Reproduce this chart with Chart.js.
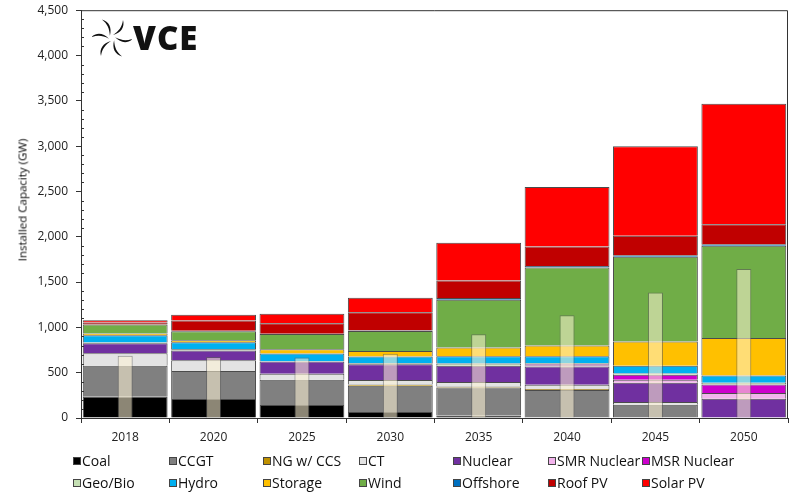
<!DOCTYPE html>
<html>
<head>
<meta charset="utf-8">
<script src="https://cdn.jsdelivr.net/npm/chart.js@4.4.1/dist/chart.umd.min.js"></script>
<style>
  html, body { margin: 0; padding: 0; background: #fff; overflow: hidden; }
  #wrap { position: relative; width: 792px; height: 493px; font-family: "Open Sans", sans-serif; overflow: hidden; }
  #wrap canvas { position: absolute; left: 0; top: -5px; }
  .ytitle { position: absolute; left: 22px; top: 200px; transform: translate(-50%, -50%) rotate(-90deg);
            font-size: 11.5px; color: #000; white-space: nowrap; }
  .logo { position: absolute; left: 92px; top: 18px; width: 110px; height: 40px; }
  .logo span { position: absolute; left: 41px; top: -3px; font-size: 33px; font-weight: 800; color: #111; letter-spacing: 1px; }
  .leg { position: absolute; font-size: 14px; color: #111; white-space: nowrap; line-height: 18px; }
  .leg i { display: inline-block; width: 6px; height: 6px; border: 1px solid #444; margin-right: 1px; vertical-align: 1px; }
</style>
</head>
<body>
<div id="wrap">
  <canvas id="chart" width="792" height="498"></canvas>
  <div class="ytitle">Installed Capacity (GW)</div>
  <div class="logo">
    <svg width="40" height="40" viewBox="-20 -20 40 40" style="position:absolute;left:0;top:0">
      <g fill="#111">
        <path id="blade" d="M1,-3 C7,-7 10,-11 11,-18 C13,-11 9,-5 1,-3 Z"/>
        <use href="#blade" transform="rotate(60)"/>
        <use href="#blade" transform="rotate(120)"/>
        <use href="#blade" transform="rotate(180)"/>
        <use href="#blade" transform="rotate(240)"/>
        <use href="#blade" transform="rotate(300)"/>
      </g>
    </svg>
    <span>VCE</span>
  </div>
  <div id="legend"></div>
</div>
<script>
// categories
var years = ['2018', '2020', '2025', '2030', '2035', '2040', '2045', '2050'];

// installed capacity by technology (GW)
var coal     = [234, 209, 143, 66, 27, 0, 0, 0];
var ccgt     = [342, 311, 278, 291, 310, 309, 147, 0];
var ngCcs    = [0, 0, 0, 14, 11, 11, 0, 0];
var ct       = [139, 118, 66, 47, 48, 46, 29, 0];
var nuclear  = [110, 106, 136, 176, 180, 202, 213, 213];
var smr      = [0, 0, 0, 0, 0, 12, 33, 62];
var msr      = [0, 0, 0, 0, 0, 13, 55, 96];
var geoBio   = [8, 14, 4, 11, 26, 12, 15, 18];
var hydro    = [80, 78, 84, 73, 80, 77, 84, 81];
var storage  = [20, 22, 48, 62, 96, 118, 267, 414];
var wind     = [100, 100, 168, 220, 528, 862, 935, 1016];
var offshore = [0, 5, 3, 6, 17, 15, 18, 18];
var roofPv   = [20, 112, 115, 200, 195, 216, 214, 220];
var solarPv  = [25, 65, 105, 161, 417, 657, 990, 1330];

// narrow translucent bar drawn over each stack
var peak     = [686, 672, 668, 708, 925, 1135, 1385, 1645];

var yTicks = [0, 500, 1000, 1500, 2000, 2500, 3000, 3500, 4000, 4500];

var series = [
  ['Coal', coal, '#000000'],
  ['CCGT', ccgt, '#808080'],
  ['NG w/ CCS', ngCcs, '#bf9000'],
  ['CT', ct, '#e3e3e3'],
  ['Nuclear', nuclear, '#7030a0'],
  ['SMR Nuclear', smr, '#f2b3ec'],
  ['MSR Nuclear', msr, '#cc00cc'],
  ['Geo/Bio', geoBio, '#c5e0b4'],
  ['Hydro', hydro, '#00b0f0'],
  ['Storage', storage, '#ffc000'],
  ['Wind', wind, '#70ad47'],
  ['Offshore', offshore, '#0070c0'],
  ['Roof PV', roofPv, '#c00000'],
  ['Solar PV', solarPv, '#ff0000']
];

var datasets = series.map(function (s) {
  return {
    label: s[0],
    data: s[1],
    backgroundColor: s[2],
    borderColor: 'rgba(30,30,30,0.8)',
    borderWidth: 1,
    stack: 'cap',
    barPercentage: 0.96,
    categoryPercentage: 1
  };
});
datasets.push({
  label: 'peak',
  data: peak,
  stack: 'peak',
  order: -1,
  backgroundColor: 'rgba(255,244,214,0.55)',
  borderColor: 'rgba(90,90,90,0.6)',
  borderWidth: 1,
  barPercentage: 0.17,
  categoryPercentage: 1
});

// legend, 2 rows x 7 columns
var legCols = [73, 169, 263, 359, 453, 548, 642];
var legHtml = '';
series.forEach(function (s, i) {
  var col = i % 7, row = Math.floor(i / 7);
  legHtml += '<div class="leg" style="left:' + legCols[col] + 'px;top:' + (452 + row * 22) + 'px">' +
    '<i style="background:' + s[2] + '"></i>' + s[0] + '</div>';
});
document.getElementById('legend').innerHTML = legHtml;

var frame = {
  id: 'frame',
  afterDraw: function (chart) {
    var c = chart.ctx, a = chart.chartArea, y = chart.scales.y;
    c.save();
    c.strokeStyle = '#333';
    c.lineWidth = 1;
    c.beginPath();
    c.moveTo(a.left, a.top + 0.5);
    c.lineTo(a.right - 0.5, a.top + 0.5);
    c.lineTo(a.right - 0.5, a.bottom);
    c.stroke();
    // minor ticks every 100
    c.beginPath();
    for (var v = 100; v < 4500; v += 100) {
      if (v % 500 === 0) continue;
      var py = Math.round(y.getPixelForValue(v)) + 0.5;
      c.moveTo(a.left, py);
      c.lineTo(a.left + 3, py);
    }
    c.stroke();
    c.restore();
  }
};

new Chart(document.getElementById('chart'), {
  type: 'bar',
  data: { labels: years, datasets: datasets },
  options: {
    responsive: false,
    animation: false,
    datasets: { bar: { grouped: false } },
    layout: { padding: { top: 5, right: 4, left: 0, bottom: 0 } },
    plugins: { legend: { display: false }, tooltip: { enabled: false } },
    scales: {
      x: {
        grid: { offset: true, drawOnChartArea: false, tickLength: 5, color: '#333' },
        border: { color: '#333' },
        ticks: { color: '#222', padding: 7, font: { family: 'Open Sans', size: 12 } },
        afterFit: function (s) { s.height = 75; }
      },
      y: {
        stacked: true,
        min: 0,
        max: 4500,
        afterBuildTicks: function (s) { s.ticks = yTicks.map(function (v) { return { value: v }; }); },
        grid: { drawOnChartArea: false, tickLength: 5, color: '#333' },
        border: { color: '#333' },
        ticks: {
          color: '#222', padding: 8, font: { family: 'Open Sans', size: 12 },
          callback: function (v) { return v.toLocaleString('en-US'); }
        },
        afterFit: function (s) { s.width = 81; }
      }
    }
  },
  plugins: [frame]
});
</script>
</body>
</html>
